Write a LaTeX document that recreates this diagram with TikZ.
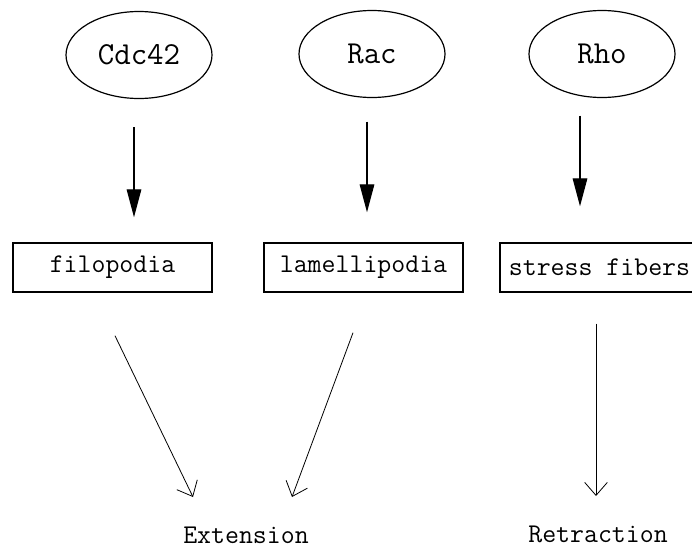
\documentclass[tikz,border=0pt]{standalone}
\usepackage{fontspec}
\usepackage{tikz}
\usetikzlibrary{
    arrows.meta,
    calc,
    positioning,
    shapes.geometric
}
\tikzstyle{fatarrow}=[line width=0.8pt,-{Triangle[length=21pt,width=11pt]}]
\tikzstyle{thinarrow}=[line width=0.6pt,-{Straight Barb[length=9.75pt,width=17pt]}]

\begin{document}
\begin{tikzpicture}[
    x=0.75pt,y=-0.75pt,
    gtpase/.style={
        ellipse,
        draw,
        line width=0.9pt,
        minimum width=109.5pt,
        minimum height=65.25pt,
        font=\fontsize{24}{26}\ttfamily
    },
    feature/.style={
        rectangle,
        draw,
        line width=1.1pt,
        minimum width=149.25pt,
        minimum height=36.75pt,
        font=\fontsize{20.3}{22}\ttfamily
    },
    outcome/.style={inner sep=0pt,font=\fontsize{20.3}{22}\ttfamily}
]
\useasboundingbox (0,0) rectangle (692,550);
\clip (0,0) rectangle (692,550);
\node[gtpase] (cdc) at (139,55) {Cdc42};
\node[gtpase] (rac) at (372,54) {Rac};
\node[gtpase] (rho) at (602,54) {Rho};
\node[feature] (filo) at (112.5,267.5) {filopodia};
\node[feature] (lam) at (363.5,267.5) {lamellipodia};
\node[feature] (stress) at (599.5,267.5) {stress fibers};
\node[outcome] (ext) at (246,535) {Extension};
\node[outcome] (retr) at (598,534) {Retraction};
\draw[fatarrow] ($(cdc.south)+(-5,28)$) -- ($(filo.north)+(21.5,-25)$);
\draw[fatarrow] ($(rac.south)+(-5,23.5)$) -- ($(lam.north)+(3.5,-30)$);
\draw[fatarrow] ($(rho.south)+(-22,17.5)$) -- ($(stress.north)+(-19.5,-36)$);
\draw[thinarrow] ($(filo.south)+(2.5,43)$) -- ($(ext)+(-53,-38)$);
\draw[thinarrow] ($(lam.south)+(-10.5,40)$) -- ($(ext)+(46,-38)$);
\draw[thinarrow] ($(stress.south)+(-3.5,31)$) -- ($(retr)+(-2,-38)$);
\end{tikzpicture}
\end{document}
